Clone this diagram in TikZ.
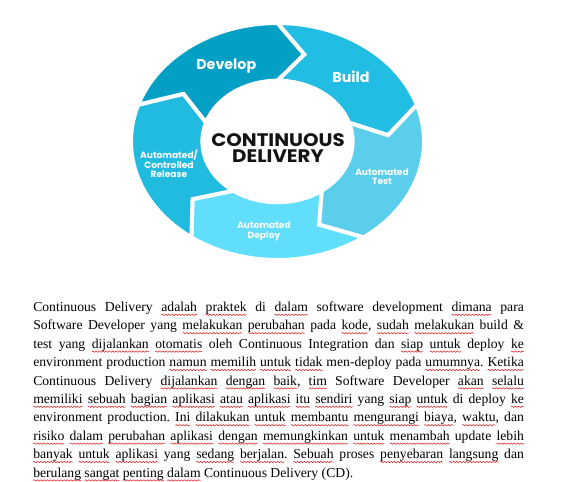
\documentclass[tikz,border=0pt]{standalone}
\usepackage{fontspec}
\setmainfont{Liberation Serif}[Kerning=Off]
\newfontfamily\pop{Poppins}
\newfontfamily\popw{Poppins}[FakeStretch=1.09]
\usetikzlibrary{decorations.pathmorphing}
\definecolor{cdev}{RGB}{4,159,197}
\definecolor{cbuild}{RGB}{33,189,226}
\definecolor{ctest}{RGB}{90,206,234}
\definecolor{cdeploy}{RGB}{97,222,252}
\definecolor{crel}{RGB}{33,187,224}
\definecolor{spellred}{RGB}{230,30,30}
\definecolor{ctrtext}{RGB}{20,20,20}
\newsavebox\splbox
\newcommand\spl[1]{\sbox\splbox{#1}\edef\splw{\the\wd\splbox}\leavevmode\rlap{\tikz[overlay,baseline=0pt]\draw[spellred, line width=0.4pt, decorate, decoration={snake, amplitude=0.5pt, segment length=2.5pt}] (0pt,-2.5pt) -- (\splw,-2.5pt);}\usebox\splbox}
\begin{document}
\begin{tikzpicture}[x=0.75pt,y=0.75pt,
  seg/.style={draw=white, line width=3pt, line join=miter},
  lbl/.style={text=white, font=\pop\bfseries\fontsize{10.7}{12}\selectfont, inner sep=0},
  slbl/.style={text=white, font=\pop\bfseries\fontsize{6.8}{7}\selectfont, align=center, inner sep=0},
  ctr/.style={text=ctrtext, font=\popw\bfseries\fontsize{13.6}{12.2}\selectfont, align=center, inner sep=0},
  bodytext/.style={text width=368pt, align=justify, inner sep=0, text=black,
    font=\fontsize{10.25}{13.8}\selectfont,
    execute at begin node={\frenchspacing\hyphenpenalty=10000 \exhyphenpenalty=10000 \tolerance=10000 }}]
\fill[white] (0,0) rectangle (569,482);
\useasboundingbox (0,0) rectangle (569,482);
\begin{scope}[shift={(277.5,340.5)}, xscale=146.5, yscale=118.5]
  \foreach \a/\col in {162/cdev, 90/cbuild, 18/ctest, -54/cdeploy, -126/crel}{
    \pgfmathsetmacro\b{\a-72}
    \pgfmathsetmacro\at{\a-14}
    \pgfmathsetmacro\bt{\b-14}
    \filldraw[seg, fill=\col] (\a:1) arc[start angle=\a, end angle=\b, radius=1]
      -- (\bt:0.757) -- (\b:0.513) arc[start angle=\b, end angle=\a, radius=0.513]
      -- (\at:0.757) -- cycle;
  }
\end{scope}
\node[lbl, anchor=base] (ldev) at (226.3,412.7) {Develop};
\node[lbl, anchor=base] (lbuild) at (351,399.3) {Build};
\node[slbl] (ltest) at (382,305.2) {Automated\\Test};
\node[slbl] (ldeploy) at (264,250.5) {Automated\\Deploy};
\node[slbl] (lrel) at (169,318) {Automated/\\Controlled\\Release};
\node[ctr] (center) at (278,333.8) {CONTINUOUS\\DELIVERY};
\node[bodytext, anchor=base west] (txt) at (33,170.5) {Continuous Delivery \spl{adalah} \spl{praktek} di \spl{dalam} software development \spl{dimana} para\linebreak
Software Developer yang \spl{melakukan} \spl{perubahan} pada \spl{kode}, \spl{sudah} \spl{melakukan} build \&\linebreak
test yang \spl{dijalankan} \spl{otomatis} oleh Continuous Integration dan \spl{siap} \spl{untuk} deploy \spl{ke}\linebreak
environment production \spl{namun} \spl{memilih} \spl{untuk} \spl{tidak} men-deploy pada \spl{umumnya}. \spl{Ketika}\linebreak
Continuous Delivery \spl{dijalankan} \spl{dengan} \spl{baik}, \spl{tim} Software Developer \spl{akan} \spl{selalu}\linebreak
\spl{memiliki} \spl{sebuah} \spl{bagian} \spl{aplikasi} \spl{atau} \spl{aplikasi} \spl{itu} \spl{sendiri} yang \spl{siap} \spl{untuk} di deploy \spl{ke}\linebreak
environment production. \spl{Ini} \spl{dilakukan} \spl{untuk} \spl{membantu} \spl{mengurangi} \spl{biaya}, \spl{waktu}, dan\linebreak
\spl{risiko} \spl{dalam} \spl{perubahan} \spl{aplikasi} \spl{dengan} \spl{memungkinkan} \spl{untuk} \spl{menambah} update \spl{lebih}\linebreak
\spl{banyak} \spl{untuk} \spl{aplikasi} yang \spl{sedang} \spl{berjalan}. \spl{Sebuah} proses \spl{penyebaran} \spl{langsung} dan\linebreak
\spl{berulang} \spl{sangat} \spl{penting} \spl{dalam} Continuous Delivery (CD).};
\end{tikzpicture}
\end{document}
